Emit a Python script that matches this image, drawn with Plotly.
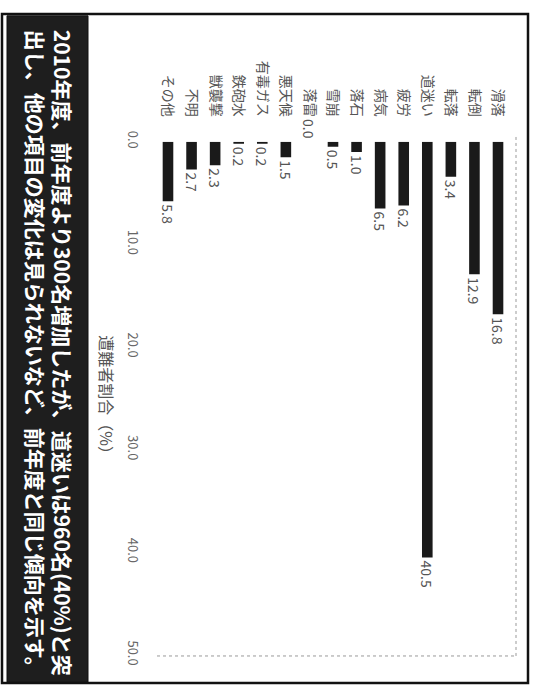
import plotly.graph_objects as go

# ---- data (top of original chart = right side of rotated picture) ----
categories = ["滑落", "転倒", "転落", "道迷い", "疲労", "病気", "落石", "雪崩",
              "落雷", "悪天候", "有毒ガス", "鉄砲水", "獣襲撃", "不明", "その他"]
values = [16.8, 12.9, 3.4, 40.5, 6.2, 6.5, 1.0, 0.5,
          0.0, 1.5, 0.2, 0.2, 2.3, 2.7, 5.8]
value_ticks = [0, 10, 20, 30, 40, 50]
axis_title = "遭難者割合（%）"
caption = ("2010年度、前年度より300名増加したが、道迷いは960名(40%)と突<br>"
           "出し、他の項目の変化は見られないなど、前年度と同じ傾向を示す。")

W, H = 533, 697
FONT = "Noto Sans CJK JP"


def px_x(p):
    return p / W


def px_y(p):
    return 1 - p / H


order = list(reversed(categories))  # leftmost in picture = last category

fig = go.Figure()
fig.add_trace(go.Bar(
    x=categories,
    y=values,
    marker=dict(color="#1a1a1a", line=dict(width=0)),
    text=[f"{v:.1f}" for v in values],
    textposition="outside",
    textangle=90,
    constraintext="none",
    textfont=dict(family=FONT, size=14, color="#555555"),
    cliponaxis=False,
    width=0.45,
))

fig.update_layout(
    width=W, height=H,
    margin=dict(l=0, r=0, t=0, b=0),
    paper_bgcolor="white",
    plot_bgcolor="white",
    showlegend=False,
    font=dict(family=FONT, color="#555555"),
    xaxis=dict(
        domain=[px_x(156.2), px_x(509.8)],
        type="category",
        categoryorder="array",
        categoryarray=order,
        range=[-0.5, len(categories) - 0.5],
        side="top",
        tickangle=90,
        tickfont=dict(family=FONT, size=14, color="#555555"),
        showgrid=False, zeroline=False, showline=False, ticks="",
        ticklabelstandoff=22,
    ),
    yaxis=dict(
        domain=[px_y(665), px_y(135)],
        range=[50, 0],
        tickvals=value_ticks,
        tickformat=".1f",
        tickangle=90,
        tickfont=dict(family=FONT, size=13, color="#666666"),
        showgrid=False, zeroline=False, showline=False, ticks="",
        ticklabelstandoff=14,
    ),
)

# frame, caption box and dotted plot-area edges
fig.add_shape(type="rect", xref="paper", yref="paper",
              x0=px_x(2), x1=px_x(528), y0=px_y(694), y1=px_y(3),
              line=dict(color="#111111", width=2.5), fillcolor="rgba(0,0,0,0)")
fig.add_shape(type="rect", xref="paper", yref="paper",
              x0=px_x(7), x1=px_x(88), y0=px_y(693), y1=px_y(5),
              line=dict(color="#111111", width=1), fillcolor="#1e1e1e")
fig.add_shape(type="line", xref="paper", yref="paper",
              x0=px_x(157), x1=px_x(516), y0=px_y(666), y1=px_y(666),
              line=dict(color="#999999", width=1, dash="dot"))
fig.add_shape(type="line", xref="paper", yref="paper",
              x0=px_x(516), x1=px_x(516), y0=px_y(666), y1=px_y(128),
              line=dict(color="#999999", width=1, dash="dot"))

fig.add_annotation(
    text=caption, xref="paper", yref="paper",
    x=px_x(49), y=px_y(354), xanchor="center", yanchor="middle",
    textangle=90, showarrow=False, align="left",
    font=dict(family=FONT, size=21, color="white", weight="bold"),
)
fig.add_annotation(
    text=axis_title, xref="paper", yref="paper",
    x=px_x(107), y=px_y(400), xanchor="center", yanchor="middle",
    textangle=90, showarrow=False,
    font=dict(family=FONT, size=16, color="#555555"),
)

fig.write_html("out.html")
